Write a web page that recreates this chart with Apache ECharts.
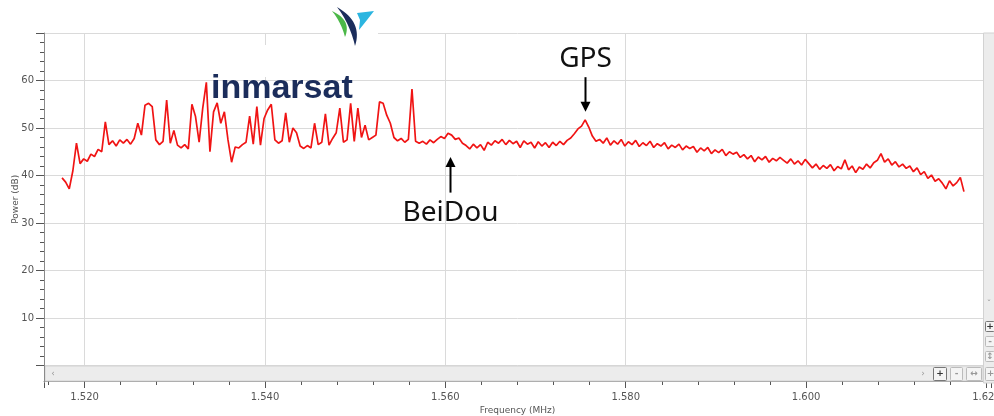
<!DOCTYPE html>
<html>
<head>
<meta charset="utf-8">
<script src="https://cdn.jsdelivr.net/npm/echarts@6/dist/echarts.min.js"></script>
<style>
  html, body { margin: 0; padding: 0; background: #ffffff; }
  #chart { width: 994px; height: 416px; }
</style>
</head>
<body>
<div id="chart"></div>
<script>
// Spectrum sweep: one power reading (dB) per bin, starting at sweepStartMHz.
const sweepStartMHz = 1.5175;
const sweepStepMHz = 0.0004;

// Power readings, split into five consecutive bands of the sweep.
const powerBand1 = [
  39.5, 38.6, 37.2, 41.0, 46.8, 42.5, 43.5, 43.0, 44.5, 44.0,
  45.5, 45.0, 51.3, 46.5, 47.3, 46.2, 47.5, 46.8, 47.6, 46.6,
  47.8, 51.0, 48.5, 54.8, 55.2, 54.5, 47.5, 46.5, 47.2, 55.9,
  46.8, 49.5, 46.4, 45.8, 46.5, 45.6, 55.0, 52.4, 47.0, 54.2,
  59.6, 45.0, 53.4, 55.3, 51.0, 53.4, 47.5, 42.8, 46.0, 45.8
];
const powerBand2 = [
  46.5, 47.0, 52.5, 46.6, 54.5, 46.4, 52.0, 53.8, 55.0, 47.5,
  46.8, 47.3, 53.2, 47.0, 50.0, 49.0, 46.2, 45.7, 46.3, 45.8,
  51.0, 46.5, 47.0, 53.0, 46.4, 47.8, 49.0, 54.2, 47.0, 47.5,
  55.2, 47.2, 54.2, 48.0, 50.6, 47.5, 48.0, 48.5, 55.5, 55.2,
  52.7, 51.0, 48.0, 47.3, 47.8, 47.0, 47.6, 58.2, 47.2, 46.8
];
const powerBand3 = [
  47.2, 46.6, 47.5, 46.9, 47.6, 48.2, 47.8, 48.9, 48.5, 47.6,
  47.9, 46.8, 46.3, 45.6, 46.6, 45.8, 46.5, 45.3, 47.0, 46.4,
  47.3, 46.8, 47.6, 46.5, 47.4, 46.7, 47.2, 45.9, 47.3, 46.6,
  47.0, 45.8, 47.1, 46.2, 46.9, 45.9, 47.0, 46.3, 47.2, 46.5,
  47.4, 47.9, 48.8, 49.8, 50.4, 51.7, 50.2, 48.3, 47.2, 47.6
];
const powerBand4 = [
  46.8, 47.9, 46.4, 47.3, 46.6, 47.6, 46.2, 47.1, 46.5, 47.4,
  46.1, 46.9, 46.3, 47.2, 45.9, 46.7, 46.2, 46.9, 45.6, 46.4,
  45.9, 46.6, 45.4, 46.2, 45.7, 46.1, 44.9, 45.8, 45.2, 45.9,
  44.6, 45.4, 44.8, 45.5, 44.2, 45.0, 44.5, 44.9, 43.8, 44.4,
  43.5, 44.2, 42.9, 43.9, 43.3, 44.0, 42.8, 43.6, 43.1, 43.8
];
const powerBand5 = [
  43.2, 42.6, 43.5, 42.4, 43.1, 42.2, 43.4, 42.5, 41.6, 42.4,
  41.3, 42.1, 41.5, 42.3, 41.0, 41.9, 41.4, 43.3, 41.2, 42.0,
  40.6, 41.8, 41.3, 42.4, 41.6, 42.7, 43.2, 44.6, 42.8, 43.5,
  42.2, 42.9, 41.8, 42.4, 41.5, 42.0, 40.8, 41.6, 40.2, 40.8,
  39.4, 40.1, 38.8, 39.3, 38.4, 37.2, 38.9, 37.8, 38.5, 39.6,
  36.6
];

// Axis tick labels
const freqTickLabels = ['1.520', '1.540', '1.560', '1.580', '1.600', '1.620'];
const powerTickLabels = [10, 20, 30, 40, 50, 60];

// Signal call-outs: marker frequency, arrow span (dB) and label level (dB)
const callouts = [
  { text: 'GPS',    freq: 1.5755, from: 60.7, to: 53.4, labelAt: 64.6, head: 'down' },
  { text: 'BeiDou', freq: 1.5605, from: 36.4, to: 43.9, labelAt: 32.2, head: 'up' }
];

const trace = [].concat(powerBand1, powerBand2, powerBand3, powerBand4, powerBand5)
  .map((p, i) => [+(sweepStartMHz + i * sweepStepMHz).toFixed(4), p]);

const AXIS_FONT = 'DejaVu Sans';
const TICK_COLOR = '#555555';

const chart = echarts.init(document.getElementById('chart'), null, { renderer: 'canvas' });

chart.setOption({
  animation: false,
  backgroundColor: '#ffffff',
  grid: { left: 44, right: 3, top: 33, bottom: 50.5, containLabel: false, outerBoundsMode: 'none' },
  xAxis: {
    type: 'value',
    min: 1.5155,
    max: 1.6205,
    splitNumber: 5,
    offset: 15.5,
    name: 'Frequency (MHz)',
    nameLocation: 'middle',
    nameGap: 25,
    nameMoveOverlap: false,
    nameTextStyle: { fontFamily: AXIS_FONT, fontSize: 9, color: TICK_COLOR },
    axisLine: { show: true, onZero: false, lineStyle: { color: '#8a8a8a', width: 1 } },
    axisTick: { show: true, length: 7, lineStyle: { color: TICK_COLOR } },
    minorTick: { show: true, splitNumber: 5, length: 4, lineStyle: { color: TICK_COLOR } },
    axisLabel: {
      margin: 11, fontFamily: AXIS_FONT, fontSize: 10, color: TICK_COLOR,
      showMinLabel: false, showMaxLabel: false,
      formatter: v => { const s = v.toFixed(3); return freqTickLabels.includes(s) ? s : ''; }
    },
    splitLine: { show: true, lineStyle: { color: '#dadada', width: 1 } }
  },
  yAxis: {
    type: 'value',
    min: 0,
    max: 70,
    interval: 10,
    name: 'Power (dB)',
    nameLocation: 'middle',
    nameGap: 24,
    nameMoveOverlap: false,
    nameTextStyle: { fontFamily: AXIS_FONT, fontSize: 9, color: TICK_COLOR },
    axisLine: { show: true, lineStyle: { color: '#8a8a8a', width: 1 } },
    axisTick: { show: true, length: 8, lineStyle: { color: TICK_COLOR } },
    minorTick: { show: true, splitNumber: 5, length: 4, lineStyle: { color: TICK_COLOR } },
    axisLabel: {
      margin: 10, fontFamily: AXIS_FONT, fontSize: 10, color: TICK_COLOR,
      formatter: v => powerTickLabels.includes(v) ? String(v) : ''
    },
    splitLine: { show: true, lineStyle: { color: '#dadada', width: 1 } }
  },
  series: [{
    type: 'line',
    data: trace,
    showSymbol: false,
    clip: true,
    z: 3,
    lineStyle: { color: '#f01414', width: 1.7 },
    itemStyle: { color: '#f01414' }
  }]
});

// Decorations: scrollbars, zoom buttons, logo and signal call-outs
function px(f, p) { return chart.convertToPixel({ gridIndex: 0 }, [f, p]); }

// crescent outline sampled from two quadratic curves sharing end points
function crescent(p0, outerCtrl, p1, innerCtrl) {
  const pts = [];
  const n = 16;
  for (let i = 0; i <= n; i++) {
    const t = i / n, u = 1 - t;
    pts.push([u * u * p0[0] + 2 * u * t * outerCtrl[0] + t * t * p1[0],
              u * u * p0[1] + 2 * u * t * outerCtrl[1] + t * t * p1[1]]);
  }
  for (let i = n - 1; i > 0; i--) {
    const t = i / n, u = 1 - t;
    pts.push([u * u * p0[0] + 2 * u * t * innerCtrl[0] + t * t * p1[0],
              u * u * p0[1] + 2 * u * t * innerCtrl[1] + t * t * p1[1]]);
  }
  return pts;
}

const graphics = [];

// y axis continues past zero down to the frequency axis
const zeroPt = px(1.5155, 0);
graphics.push({ type: 'line', z: 5, shape: { x1: 44.5, y1: zeroPt[1], x2: 44.5, y2: 383 },
  style: { stroke: '#8a8a8a', lineWidth: 1 } });

// horizontal scrollbar
graphics.push({ type: 'rect', z: 4, shape: { x: 45, y: 366, width: 938, height: 15 },
  style: { fill: '#ececec', stroke: '#d2d2d2', lineWidth: 1 } });
graphics.push({ type: 'text', z: 6, style: { x: 53, y: 373.5, text: '‹', fill: '#999', font: '9px DejaVu Sans', align: 'center', verticalAlign: 'middle' } });
graphics.push({ type: 'text', z: 6, style: { x: 923, y: 373.5, text: '›', fill: '#999', font: '9px DejaVu Sans', align: 'center', verticalAlign: 'middle' } });

// vertical scrollbar
graphics.push({ type: 'rect', z: 4, shape: { x: 983.5, y: 33, width: 11, height: 350 },
  style: { fill: '#ececec', stroke: '#d2d2d2', lineWidth: 1 } });
graphics.push({ type: 'text', z: 6, style: { x: 989, y: 305, text: 'ˇ', fill: '#999', font: '9px DejaVu Sans', align: 'center', verticalAlign: 'middle' } });

// zoom buttons
const buttons = [
  { x: 933, y: 367, w: 13, h: 13, t: '+', dark: true },
  { x: 950, y: 367, w: 12, h: 13, t: '-', dark: false },
  { x: 966, y: 367, w: 15, h: 13, t: '↔', dark: false },
  { x: 985, y: 367, w: 10, h: 13, t: '+', dark: false },
  { x: 985, y: 321, w: 9, h: 10, t: '+', dark: true },
  { x: 985, y: 336, w: 9, h: 10, t: '-', dark: false },
  { x: 985, y: 351, w: 9, h: 10, t: '↕', dark: false }
];
buttons.forEach(b => {
  graphics.push({ type: 'rect', z: 6, shape: { x: b.x + 0.5, y: b.y + 0.5, width: b.w, height: b.h, r: 1 },
    style: { fill: '#f4f4f4', stroke: b.dark ? '#777' : '#bbb', lineWidth: 1 } });
  graphics.push({ type: 'text', z: 7, style: { x: b.x + b.w / 2 + 0.5, y: b.y + b.h / 2 + 0.5, text: b.t,
    fill: b.dark ? '#333' : '#999', font: 'bold 9px DejaVu Sans', align: 'center', verticalAlign: 'middle' } });
});

// inmarsat logo
graphics.push({ type: 'rect', z: 8, shape: { x: 207, y: 45, width: 150, height: 32 }, style: { fill: '#ffffff' } });
graphics.push({ type: 'rect', z: 8, shape: { x: 330, y: 3, width: 48, height: 44 }, style: { fill: '#ffffff' } });
graphics.push({ type: 'polygon', z: 9, shape: { points: crescent([337, 7], [363, 22], [355, 46], [350, 24]) }, style: { fill: '#1b2d5b' } });
graphics.push({ type: 'polygon', z: 10, shape: { points: crescent([332, 11], [352, 20], [345, 37], [341, 22]) }, style: { fill: '#4cb848' } });
graphics.push({ type: 'polygon', z: 9, shape: { points: [[357, 13], [374, 11], [367, 20], [359, 30], [360, 20]] }, style: { fill: '#2bb5e0' } });
graphics.push({ type: 'text', z: 10, style: { x: 211, y: 72, text: 'inmarsat', fill: '#1b2d5b',
  font: 'bold 34px "Liberation Sans"', align: 'left', verticalAlign: 'alphabetic' } });

// call-outs: arrow + label
callouts.forEach(c => {
  const a = px(c.freq, c.from);
  const b = px(c.freq, c.to);
  const l = px(c.freq, c.labelAt);
  const x = Math.round(a[0]) + 0.5;
  const dir = c.head === 'down' ? 1 : -1;
  const headLen = 10, headHalf = 5;
  graphics.push({ type: 'line', z: 10, shape: { x1: x, y1: a[1], x2: x, y2: b[1] - dir * headLen + dir },
    style: { stroke: '#000', lineWidth: 2 } });
  graphics.push({ type: 'polygon', z: 10, shape: { points: [[x - headHalf, b[1] - dir * headLen], [x + headHalf, b[1] - dir * headLen], [x, b[1]]] },
    style: { fill: '#000' } });
  graphics.push({ type: 'text', z: 10, style: { x: x, y: l[1], text: c.text, fill: '#111',
    font: '28px "Noto Sans"', align: 'center', verticalAlign: 'middle' } });
});

chart.setOption({ graphic: graphics });
</script>
</body>
</html>
